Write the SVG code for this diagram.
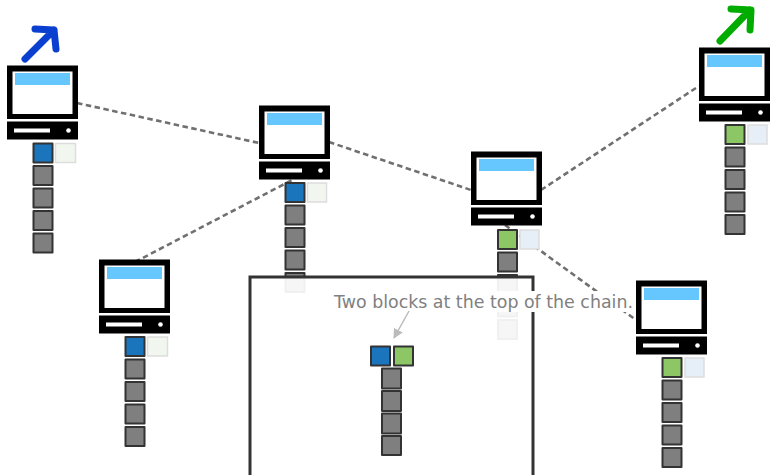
<svg xmlns="http://www.w3.org/2000/svg" width="770" height="475" viewBox="0 0 770 475">
<style>
.link{stroke:#707070;stroke-width:2.6;stroke-dasharray:5.500 3.500;fill:none}
.blk{stroke:#333;stroke-width:2;stroke-linejoin:round}
.gray{fill:#7f7f7f}.blue{fill:#1b75bc}.green{fill:#8cc665}
.ghost{stroke:#ddd;stroke-width:1.500}
.gb{fill:#f1f7ef}.gg{fill:#e6eff7}
.t{font-family:"DejaVu Sans",sans-serif;font-size:17.4px;fill:#808080}
</style>
<defs>
<g id="pc">
<rect x="0" y="-.5" width="71" height="53.500" fill="#000"/>
<rect x="5.500" y="5.500" width="60" height="42.500" fill="#fff"/>
<rect x="8" y="7" width="55" height="12" fill="#66c7ff"/>
<rect x="0" y="55.500" width="71" height="18" fill="#000"/>
<rect x="7" y="62.500" width="36" height="4" fill="#fff"/>
<circle cx="61.500" cy="64.500" r="2.300" fill="#fff"/>
</g>
<g id="stack">
<rect class="blk gray" x="0" y="22.500" width="19" height="19"/>
<rect class="blk gray" x="0" y="45" width="19" height="19"/>
<rect class="blk gray" x="0" y="67.500" width="19" height="19"/>
<rect class="blk gray" x="0" y="90" width="19" height="19"/>
</g>
<marker id="ah" markerWidth="12" markerHeight="12" refX="9" refY="5" orient="auto" markerUnits="userSpaceOnUse"><path d="M0 0L10 5L0 10Z" fill="#bbb"/></marker>
</defs>
<g id="connectors">
<path class="link" d="M77 103L259 143"/>
<path class="link" d="M329 142L471 190"/>
<path class="link" d="M541 190L699 86"/>
<path class="link" d="M135 262L294 179"/>
<path class="link" d="M505 225L636 320"/>
</g>
<g id="node-a">
<use href="#pc" x="7" y="66"/>
<use href="#stack" x="33.500" y="143.500"/>
<rect class="ghost gb" x="55.500" y="143.500" width="20" height="19"/>
<rect class="blk blue" x="33.500" y="143.500" width="19" height="19"/>
</g>
<g id="node-b">
<use href="#pc" x="259" y="106"/>
<use href="#stack" x="285.500" y="183"/>
<rect class="ghost gb" x="307.500" y="183" width="19" height="19"/>
<rect class="blk blue" x="285.500" y="183" width="19" height="19"/>
</g>
<g id="node-c">
<use href="#pc" x="471" y="152"/>
<use href="#stack" x="498" y="230"/>
<rect class="ghost gg" x="520" y="230" width="19" height="19"/>
<rect class="blk green" x="498" y="230" width="19" height="19"/>
</g>
<g id="node-d">
<use href="#pc" x="699" y="48"/>
<use href="#stack" x="725.500" y="125"/>
<rect class="ghost gg" x="748" y="125" width="19" height="19"/>
<rect class="blk green" x="725.500" y="125" width="19" height="19"/>
</g>
<g id="node-e">
<use href="#pc" x="99" y="260"/>
<use href="#stack" x="125.500" y="337"/>
<rect class="ghost gb" x="147.500" y="337" width="20" height="19"/>
<rect class="blk blue" x="125.500" y="337" width="19" height="19"/>
</g>
<g id="node-f">
<use href="#pc" x="636" y="281"/>
<use href="#stack" x="662.500" y="358"/>
<rect class="ghost gg" x="685" y="358" width="19" height="19"/>
<rect class="blk green" x="662.500" y="358" width="19" height="19"/>
</g>
<g id="arrow-blue" fill="none" stroke="#0a3fd0" stroke-width="7" stroke-linecap="round" stroke-linejoin="round">
<path d="M25 59L54 30M35 29L54 30L56 49"/>
</g>
<g id="arrow-green" fill="none" stroke="#00ac00" stroke-width="7" stroke-linecap="round" stroke-linejoin="round">
<path d="M720 41L750 10M731 9L751 10L750 30"/>
</g>
<g id="callout">
<rect x="250" y="277" width="283" height="200" fill="#fff" fill-opacity=".93" stroke="#333" stroke-width="3"/>
<rect x="333" y="291" width="301" height="21" fill="#fff"/>
<text class="t" x="334" y="308">Two blocks at the top of the chain.</text>
<path d="M409 311L394 338" stroke="#bbb" stroke-width="1.500" fill="none" marker-end="url(#ah)"/>
<rect class="blk blue" x="371" y="346.500" width="19" height="19"/>
<rect class="blk green" x="394" y="346.500" width="19" height="19"/>
<rect class="blk gray" x="382" y="368.500" width="19" height="20"/>
<rect class="blk gray" x="382" y="391" width="19" height="20"/>
<rect class="blk gray" x="382" y="413.500" width="19" height="20"/>
<rect class="blk gray" x="382" y="436" width="19" height="19"/>
</g>
</svg>
